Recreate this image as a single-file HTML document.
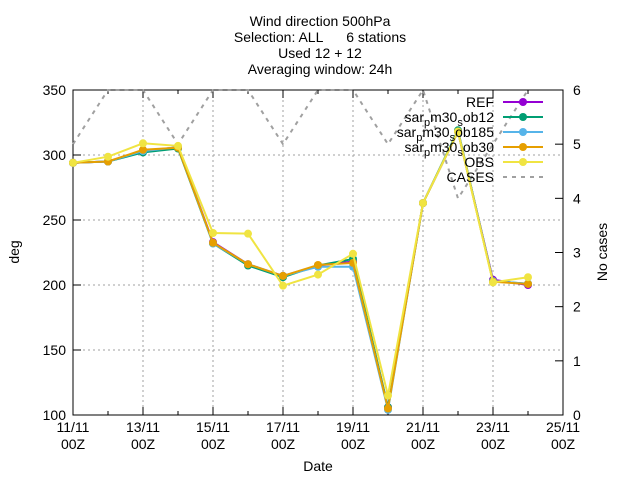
<!DOCTYPE html>
<html><head><meta charset="utf-8"><style>
body{margin:0;background:#fff}
svg{font-family:"Liberation Sans",sans-serif;font-size:14px}
</style></head><body>
<svg id="chart" width="640" height="480" viewBox="0 0 640 480" xmlns="http://www.w3.org/2000/svg">
<g text-anchor="middle" fill="#000">
<text x="320" y="26">Wind direction 500hPa</text>
<text x="320" y="42" style="white-space:pre">Selection: ALL      6 stations</text>
<text x="320" y="58">Used 12 + 12</text>
<text x="320" y="74">Averaging window: 24h</text>
</g>
<g id="grid"></g>
<g id="axes"></g>
<g id="series"></g>
<g id="legend"></g>
<text transform="translate(19,252) rotate(-90)" text-anchor="middle">deg</text>
<text transform="translate(607,252) rotate(-90)" text-anchor="middle">No cases</text>
<text x="318" y="471" text-anchor="middle">Date</text>
</svg>
<script>
const days=[11,12,13,14,15,16,17,18,19,20,21,22,23,24];
const refVals=[294,295,303,306,233,216,207,215,218,106,263,318,204,200];
const ob12Vals=[294,295,302,305,232,215,206,215,220,106,263,319,203,201];
const ob185Vals=[294,295,303,306,232,216,207,214,214,104,263,318,203,201];
const ob30Vals=[294,295,304,305.6,232.5,216,207,215.4,217,105,263,318,202.5,200.8];
const obsVals=[294,298.7,309,307,240,239.5,199.5,208,224,115,263,318,202,206];
const casesVals=[5,6,6,5,6,6,5,6,6,5,6,4,5,6];
const yTicks=[100,150,200,250,300,350];
const y2Ticks=[0,1,2,3,4,5,6];
const xTickLabels=["11/11","13/11","15/11","17/11","19/11","21/11","23/11","25/11"];
const L=73,R=563,T=90,B=415;
const X=d=>L+(d-11)*(R-L)/14;
const Y=v=>B-(v-100)*(B-T)/250;
const Y2=v=>B-v*(B-T)/6;
const NS="http://www.w3.org/2000/svg";
function mk(tag,parent,attrs){const e=document.createElementNS(NS,tag);for(const k in attrs)e.setAttribute(k,attrs[k]);parent.appendChild(e);return e;}
const grid=document.getElementById('grid'),axes=document.getElementById('axes');
yTicks.forEach(v=>{
 const y=Y(v);
 if(v>100&&v<350){const g=mk('line',grid,{x1:L,x2:R,y1:y,y2:y,stroke:'#a0a0a0','stroke-dasharray':'2,3'});}
 mk('line',axes,{x1:L,x2:L+8,y1:y,y2:y,stroke:'#000'});
 const t=mk('text',axes,{x:L-7,y:y+5,'text-anchor':'end'});t.textContent=v;
 
});
y2Ticks.forEach(v=>{
 const y=Y2(v);
 mk('line',axes,{x1:R-8,x2:R,y1:y,y2:y,stroke:'#000'});
 const t=mk('text',axes,{x:R+10,y:y+5});t.textContent=v;
 
});
for(let d=11;d<=25;d++){
 const x=X(d);const major=(d-11)%2===0;
 mk('line',axes,{x1:x,x2:x,y1:B,y2:B-(major?8:4),stroke:'#000'});
 mk('line',axes,{x1:x,x2:x,y1:T,y2:T+(major?8:4),stroke:'#000'});
 if(major){
  if(d>11&&d<25){const g=mk('line',grid,{x1:x,x2:x,y1:T,y2:B,stroke:'#a0a0a0','stroke-dasharray':'2,3'});}
  const t=mk('text',axes,{x:x,y:432,'text-anchor':'middle'});t.textContent=xTickLabels[(d-11)/2];
  
  const t2=mk('text',axes,{x:x,y:449,'text-anchor':'middle'});t2.textContent="00Z";
  
 }
}
const frame=mk('rect',axes,{x:L,y:T,width:R-L,height:B-T,fill:'none',stroke:'#000'});

const ser=document.getElementById('series');
const cp=mk('polyline',ser,{points:days.map((d,i)=>X(d)+','+Y2(casesVals[i])).join(' '),fill:'none',stroke:'#a0a0a0','stroke-width':2,'stroke-dasharray':'4,5'});

const series=[["REF",refVals,"#9400d3"],["sar_p m30_s ob12",ob12Vals,"#009e73"],["sar_p m30_s ob185",ob185Vals,"#56b4e9"],["sar_p m30_s ob30",ob30Vals,"#e69f00"],["OBS",obsVals,"#f0e442"]];
series.forEach(([n,vals,c],k)=>{
 const g=mk('g',ser,{});
 
 const p=mk('polyline',g,{points:days.map((d,i)=>X(d)+','+Y(vals[i])).join(' '),fill:'none',stroke:c,'stroke-width':2});
 
 days.forEach((d,i)=>{const m=mk('circle',g,{cx:X(d),cy:Y(vals[i]),r:4,fill:c});
  });
});
const leg=document.getElementById('legend');
const legRows=[["REF","#9400d3",0],["sar_pm30_sob12","#009e73",0],["sar_pm30_sob185","#56b4e9",0],["sar_pm30_sob30","#e69f00",0],["OBS","#f0e442",0],["CASES","#a0a0a0",1]];
legRows.forEach(([n,c,dash],i)=>{
 const y=102+i*15;
 const g=mk('g',leg,{});
 
 const t=mk('text',g,{x:494,y:y+5,'text-anchor':'end'});
 if(n.startsWith('sar')){
  const parts=n.match(/sar_p(m30)_s(ob\d+)/);
  t.innerHTML='sar<tspan dy="4" font-size="11">p</tspan><tspan dy="-4">'+parts[1]+'</tspan><tspan dy="4" font-size="11">s</tspan><tspan dy="-4">'+parts[2]+'</tspan>';
 } else t.textContent=n;
 mk('line',g,{x1:503,x2:543,y1:y,y2:y,stroke:c,'stroke-width':2,'stroke-dasharray':dash?'4,5':'none'});
 if(!dash)mk('circle',g,{cx:523,cy:y,r:4,fill:c});
});
</script>
</body></html>
